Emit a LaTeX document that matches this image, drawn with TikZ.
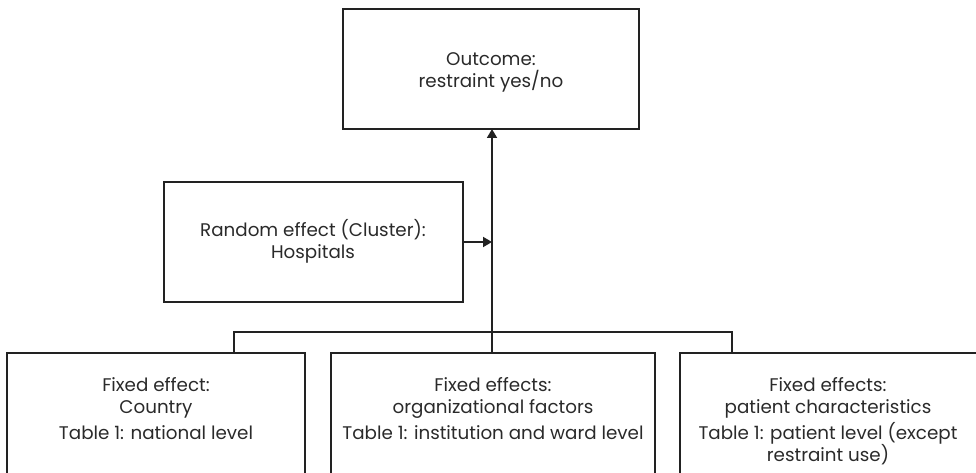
\documentclass[tikz,border=0pt]{standalone}
\usepackage{fontspec}
\setmainfont{Poppins}
\usetikzlibrary{arrows.meta}
\definecolor{ink}{HTML}{222222}
\definecolor{txtc}{HTML}{2A2A2A}
\tikzset{
  box/.style={draw=ink, line width=1.8pt, rectangle, inner sep=0pt, outer sep=0pt, anchor=north west},
  txt/.style={align=center, text=txtc, font=\fontsize{18.3}{22}\selectfont, inner sep=0pt},
  conn/.style={draw=ink, line width=1.8pt},
  arr/.style={conn, -{Triangle[length=9pt,width=10pt]}},
}
\begin{document}
\begin{tikzpicture}[x=1pt,y=-1pt]
\useasboundingbox (0,0) rectangle (976,473);
\clip (0,0) rectangle (976,473);
% boxes
\node[box, minimum width=296pt, minimum height=120pt] (out) at (343,9) {};
\node[box, minimum width=299pt, minimum height=120pt] (rnd) at (164,182) {};
\node[box, minimum width=298pt, minimum height=160pt] (b1) at (7,353) {};
\node[box, minimum width=324pt, minimum height=160pt] (b2) at (331,353) {};
\node[box, minimum width=330pt, minimum height=160pt] (b3) at (680,353) {};
% texts
\node[txt] (tout) at (491,72) {Outcome:\\restraint yes/no};
\node[txt] (trnd) at (313,241) {Random effect (Cluster):\\Hospitals};
\node[txt, anchor=north] (t1) at (156,377) {Fixed effect:\\Country\\[4pt]Table 1: national level};
\node[txt, anchor=north] (t2) at (493,377) {Fixed effects:\\organizational factors\\[4pt]Table 1: institution and ward level};
\node[txt, anchor=north] (t3) at (828,377) {Fixed effects:\\patient characteristics\\[4pt]Table 1: patient level (except\\restraint use)};
% connectors
\coordinate (s1) at (234,353);
\coordinate (s3) at (732,353);
\coordinate (j) at (492,242);
\draw[conn] (s1) |- (492,332) -| (s3);
\draw[arr] (b2.north -| j) -- (out.south -| j);
\draw[arr] (rnd.east) -- (rnd.east -| j);
\end{tikzpicture}
\end{document}
